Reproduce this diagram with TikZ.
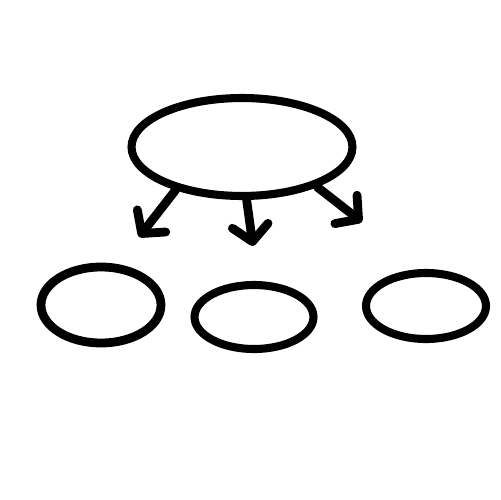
\documentclass[tikz,border=0pt]{standalone}
\usetikzlibrary{shapes.geometric,arrows.meta}
\begin{document}
\begin{tikzpicture}[x=0.02cm,y=-0.02cm,
  blob/.style={ellipse,draw=black,line width=4.6pt,inner sep=0pt,fill=none},
  conn/.style={line width=5pt,line cap=round,line join=round,
    -{Straight Barb[length=0.32cm,width=0.72cm,line cap=round,line join=round]}}]
\fill[white] (0,0) rectangle (500,500);
\useasboundingbox (0,0) rectangle (500,500);
\node[blob,minimum width=4.42cm,minimum height=1.96cm] (top) at (242,147) {};
\node[blob,minimum width=2.4cm,minimum height=1.52cm,line width=5pt] (left) at (101,305) {};
\node[blob,minimum width=2.38cm,minimum height=1.28cm] (mid) at (254,317) {};
\node[blob,minimum width=2.4cm,minimum height=1.32cm] (right) at (426,306) {};
\coordinate (lt) at (139,237);
\coordinate (mt) at (253,246);
\coordinate (rt) at (362,222);
\draw[conn] (top.-147) -- (lt);
\draw[conn] (top.-85) -- (mt);
\draw[conn] (top.-28) -- (rt);
\end{tikzpicture}
\end{document}
